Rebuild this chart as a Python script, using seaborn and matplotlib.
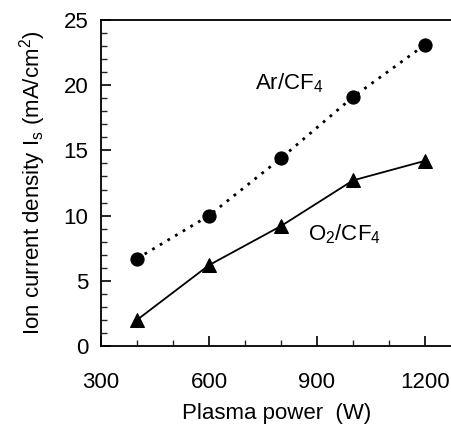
import matplotlib
matplotlib.use("Agg")
import matplotlib.pyplot as plt
import seaborn as sns
import pandas as pd
from matplotlib.ticker import MultipleLocator

power = [400, 600, 800, 1000, 1200]
ar_cf4 = [6.7, 10.0, 14.4, 19.1, 23.1]
o2_cf4 = [2.0, 6.2, 9.2, 12.7, 14.2]
x_ticks = [300, 600, 900, 1200]
y_ticks = [0, 5, 10, 15, 20, 25]

sns.set_theme(style="ticks")
plt.rcParams['font.family'] = ['Liberation Sans', 'DejaVu Sans']
plt.rcParams['mathtext.fontset'] = 'custom'
plt.rcParams['mathtext.rm'] = 'Liberation Sans'
plt.rcParams['mathtext.it'] = 'Liberation Sans'

df_ar = pd.DataFrame({"power": power, "val": ar_cf4})
df_o2 = pd.DataFrame({"power": power, "val": o2_cf4})

fig = plt.figure(figsize=(4.52, 4.28), dpi=100)
ax = fig.add_axes([101/452, 1-346/428, 1-101/452, (346-20)/428])

sns.lineplot(data=df_ar, x="power", y="val", ax=ax, color="black", linestyle=(0, (1, 2.2)),
             linewidth=2.0, marker="o", markersize=9.5, markeredgecolor="black")
sns.lineplot(data=df_o2, x="power", y="val", ax=ax, color="black", linestyle="-",
             linewidth=1.3, marker="^", markersize=10, markeredgecolor="black")

ax.set_xlim(300, 1275)
ax.set_ylim(0, 25)
ax.set_xticks(x_ticks)
ax.set_yticks(y_ticks)
ax.xaxis.set_minor_locator(MultipleLocator(100))
ax.yaxis.set_minor_locator(MultipleLocator(1))
ax.tick_params(axis="both", which="major", direction="in", length=7, width=1.2, labelsize=16, colors="black")
ax.tick_params(axis="both", which="minor", direction="in", length=4, width=1.0)
ax.tick_params(axis="x", which="major", pad=19)
ax.tick_params(axis="y", which="major", pad=9)
for s in ["left", "bottom", "top"]:
    ax.spines[s].set_linewidth(1.3)
    ax.spines[s].set_color("black")
ax.spines["right"].set_visible(False)

ax.set_xlabel("Plasma power  (W)", fontsize=16, labelpad=7, color="black")
ax.set_ylabel("Ion current density I$_\\mathrm{s}$ (mA/cm$^2$)", fontsize=16, labelpad=11, color="black")

ax.text(728, 19.7, "Ar/CF$_4$", fontsize=16, color="black")
ax.text(875, 8.1, "O$_2$/CF$_4$", fontsize=16, color="black")

fig.savefig("out.png", dpi=100)
